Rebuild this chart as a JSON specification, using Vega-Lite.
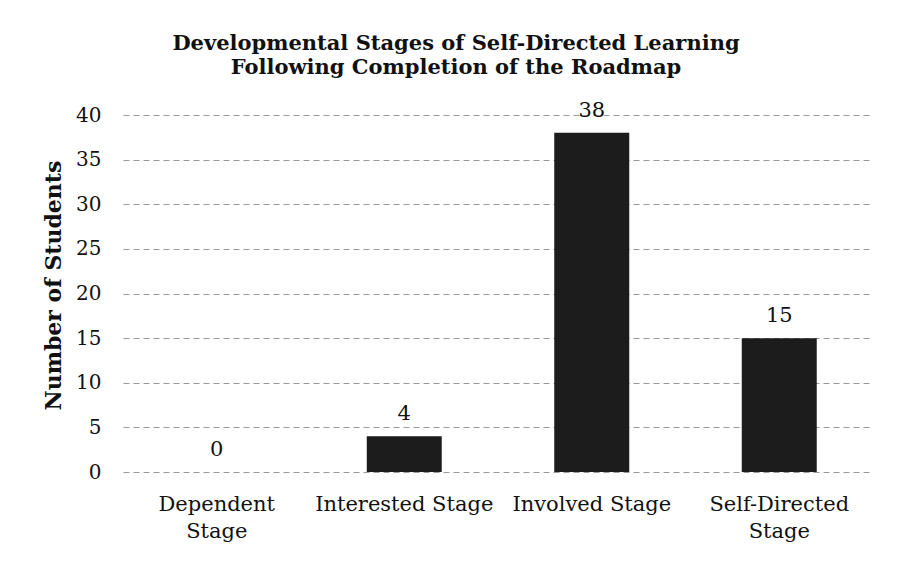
{
  "$schema": "https://vega.github.io/schema/vega-lite/v6.json",
  "autosize": "none",
  "width": 750,
  "height": 357,
  "padding": {"left": 123, "top": 115, "right": 38, "bottom": 91},
  "background": "white",
  "title": {
    "text": ["Developmental Stages of Self-Directed Learning", "Following Completion of the Roadmap"],
    "font": "DejaVu Serif",
    "fontSize": 21,
    "fontWeight": "bold",
    "color": "#111",
    "anchor": "middle",
    "dx": -42,
    "offset": 22,
    "lineHeight": 24
  },
  "data": {
    "values": [
      {"stage": "Dependent Stage", "students": 0},
      {"stage": "Interested Stage", "students": 4},
      {"stage": "Involved Stage", "students": 38},
      {"stage": "Self-Directed Stage", "students": 15}
    ]
  },
  "encoding": {
    "x": {
      "field": "stage",
      "type": "nominal",
      "sort": null,
      "scale": {"paddingInner": 0.6, "paddingOuter": 0.3},
      "axis": {
        "title": null,
        "labelAngle": 0,
        "domain": false,
        "ticks": false,
        "labelPadding": 21,
        "labelFont": "DejaVu Serif",
        "labelFontSize": 21,
        "labelColor": "#111",
        "labelLimit": 300,
        "labelLineHeight": 27,
        "labelExpr": "datum.label == 'Dependent Stage' ? ['Dependent', 'Stage'] : datum.label == 'Self-Directed Stage' ? ['Self-Directed', 'Stage'] : datum.label"
      }
    },
    "y": {
      "field": "students",
      "type": "quantitative",
      "scale": {"domain": [0, 40]},
      "axis": {
        "title": "Number of Students",
        "titleFont": "DejaVu Serif",
        "titleFontSize": 22,
        "titleFontWeight": "bold",
        "titleColor": "#111",
        "titlePadding": 10,
        "titleY": 170,
        "values": [0, 5, 10, 15, 20, 25, 30, 35, 40],
        "domain": false,
        "ticks": false,
        "labelPadding": 22,
        "labelFont": "DejaVu Serif",
        "labelFontSize": 20,
        "labelColor": "#111",
        "grid": true,
        "gridColor": "#999",
        "gridDash": [6, 4],
        "gridWidth": 1
      }
    }
  },
  "layer": [
    {"mark": {"type": "bar", "color": "#1c1c1c"}},
    {
      "mark": {"type": "text", "dy": -16, "baseline": "alphabetic", "font": "DejaVu Serif", "fontSize": 21, "color": "#111"},
      "encoding": {"text": {"field": "students", "type": "quantitative"}}
    }
  ],
  "config": {"view": {"stroke": null}}
}
